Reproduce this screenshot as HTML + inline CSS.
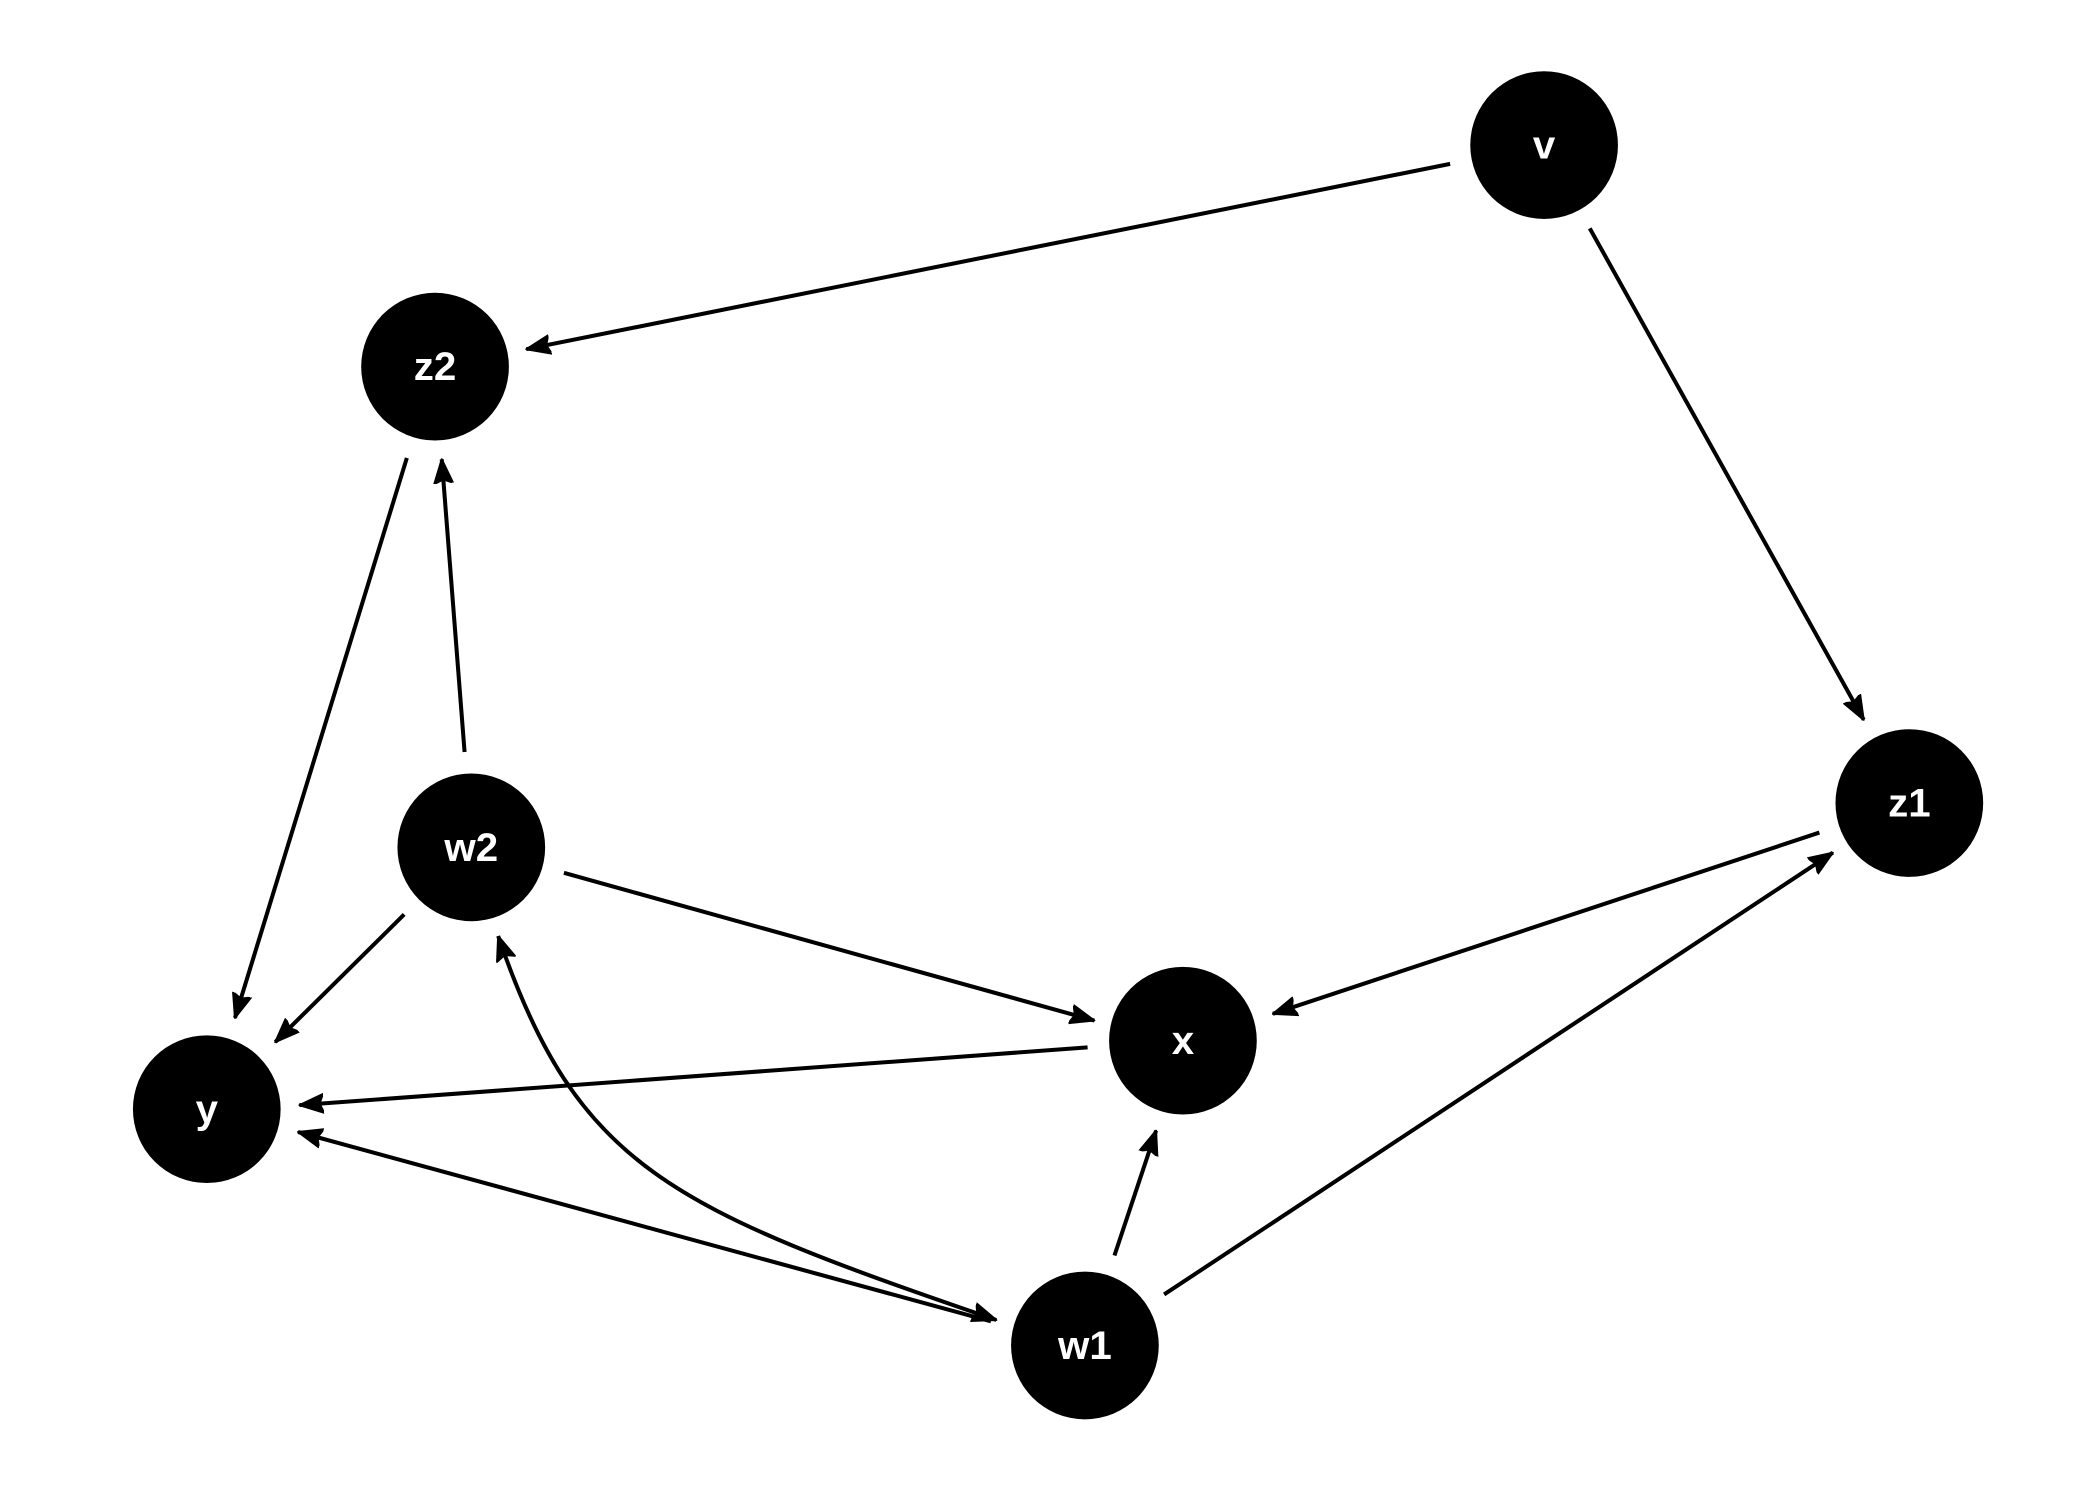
<!DOCTYPE html>
<html><head><meta charset="utf-8"><style>
html,body{margin:0;padding:0;background:#fff;}
svg{display:block;}
text{font-family:"Liberation Sans",sans-serif;font-weight:bold;font-size:30px;fill:#fff;text-anchor:middle;dominant-baseline:central;}
</style></head><body>
<svg width="2100" height="1500" viewBox="0 0 1564 1117" xmlns="http://www.w3.org/2000/svg">
<defs>
<marker id="a" markerUnits="userSpaceOnUse" markerWidth="20" markerHeight="16" refX="18" refY="8" orient="auto">
<path d="M0,1 L18,8 L0,15 L3,8 Z" fill="#000" stroke="#000" stroke-width="1.5" stroke-linejoin="round"/>
</marker>
<marker id="s" markerUnits="userSpaceOnUse" markerWidth="20" markerHeight="16" refX="0" refY="8" orient="auto">
<path d="M18,1 L0,8 L18,15 L15,8 Z" fill="#000" stroke="#000" stroke-width="1.5" stroke-linejoin="round"/>
</marker>
</defs>
<g stroke="#000" stroke-width="3" fill="none">
<line x1="1080" y1="122" x2="392" y2="260" marker-end="url(#a)"/>
<line x1="1184" y1="170" x2="1388" y2="536" marker-end="url(#a)"/>
<line x1="303" y1="341" x2="175" y2="758" marker-end="url(#a)"/>
<line x1="346" y1="560" x2="329" y2="342" marker-end="url(#a)"/>
<line x1="301" y1="681" x2="205" y2="776" marker-end="url(#a)"/>
<line x1="420" y1="650" x2="815" y2="760" marker-end="url(#a)"/>
<line x1="1355" y1="620" x2="948" y2="755" marker-end="url(#a)"/>
<line x1="810" y1="780" x2="223" y2="823" marker-end="url(#a)"/>
<line x1="738" y1="984" x2="222" y2="843" marker-end="url(#a)"/>
<line x1="830" y1="935" x2="861" y2="842" marker-end="url(#a)"/>
<line x1="867" y1="964" x2="1365" y2="635" marker-end="url(#a)"/>
<path d="M371,697 C430,870 500,900 742,983" marker-start="url(#s)" marker-end="url(#a)"/>
</g>
<g fill="#000">
<circle cx="1150" cy="108" r="55"/>
<circle cx="324" cy="273" r="55"/>
<circle cx="1422" cy="598" r="55"/>
<circle cx="351" cy="631" r="55"/>
<circle cx="881" cy="775" r="55"/>
<circle cx="154" cy="826" r="55"/>
<circle cx="808" cy="1002" r="55"/>
</g>
<text x="1150" y="108">v</text>
<text x="324" y="273">z2</text>
<text x="1422" y="598">z1</text>
<text x="351" y="631">w2</text>
<text x="881" y="775">x</text>
<text x="154" y="826">y</text>
<text x="808" y="1002">w1</text>
</svg>
</body></html>
